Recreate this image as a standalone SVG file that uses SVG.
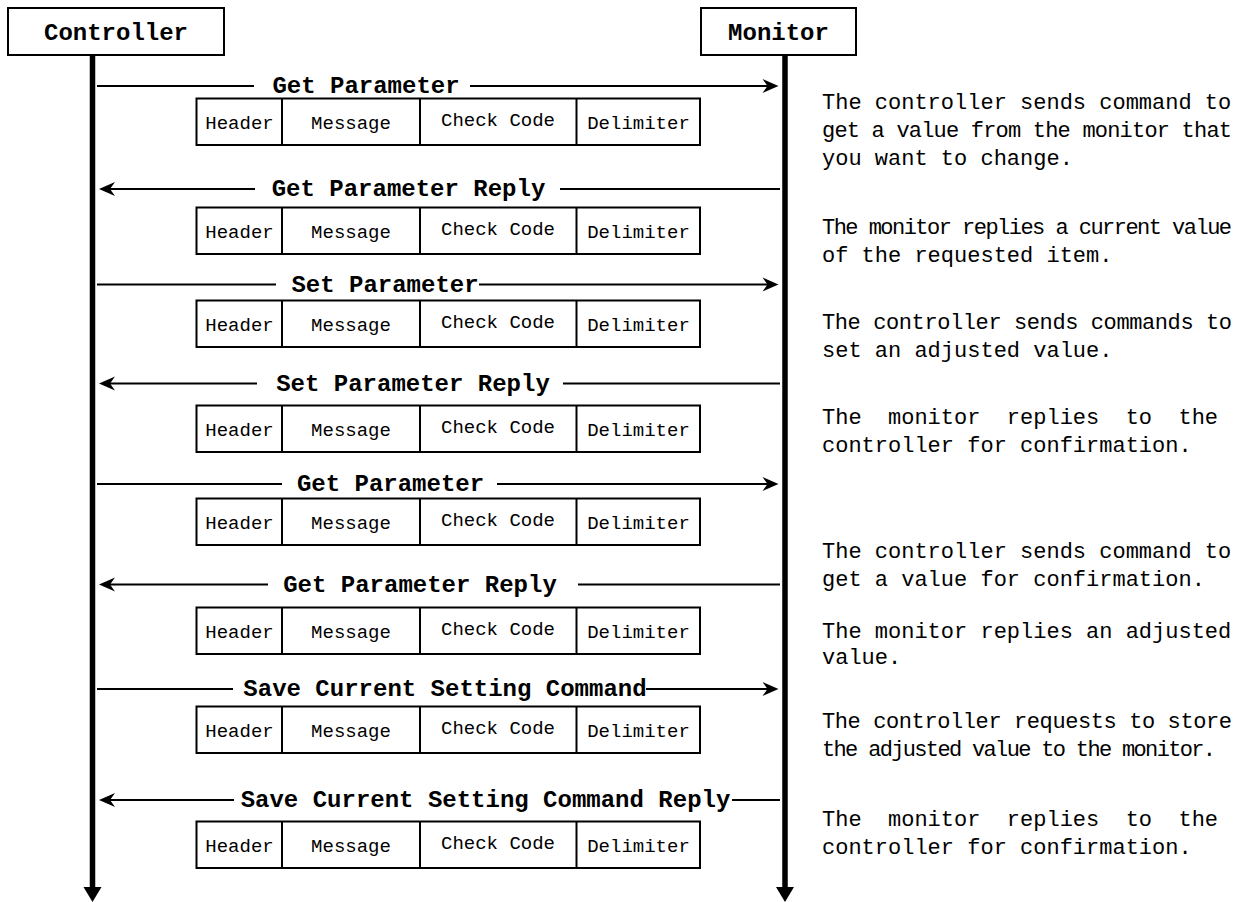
<svg xmlns="http://www.w3.org/2000/svg" width="1250" height="902" viewBox="0 0 1250 902">
<style>
.bg{fill:#fff}
.box{fill:#fff;stroke:#000;stroke-width:2}
.life{stroke:#000;stroke-width:5.5;fill:none}
.ln{stroke:#000;stroke-width:2;fill:none}
.ttl{font-family:"Liberation Mono","Courier New",monospace;font-weight:bold;font-size:24px;fill:#000;text-anchor:middle}
.lbl{font-family:"Liberation Mono","Courier New",monospace;font-weight:bold;font-size:24px;fill:#000;text-anchor:middle}
.fld{font-family:"Liberation Mono","Courier New",monospace;font-size:19px;fill:#000;text-anchor:middle}
.dsc{font-family:"Liberation Mono","Courier New",monospace;font-size:22px;fill:#000}
</style>
<defs>
<path id="headR" d="M0,0 L-16,-7 L-11,0 L-16,7 Z" fill="#000"/>
<path id="headL" d="M0,0 L16,-7 L11,0 L16,7 Z" fill="#000"/>
<g id="frame">
<rect class="box" x="196.5" y="0" width="503.5" height="46.5"/>
<line class="ln" x1="282" y1="0" x2="282" y2="46.5"/>
<line class="ln" x1="420" y1="0" x2="420" y2="46.5"/>
<line class="ln" x1="576.5" y1="0" x2="576.5" y2="46.5"/>
<text class="fld" x="239.5" y="30">Header</text>
<text class="fld" x="351" y="30">Message</text>
<text class="fld" x="498" y="27">Check Code</text>
<text class="fld" x="638.5" y="30">Delimiter</text>
</g>
</defs>
<rect class="bg" x="0" y="0" width="1250" height="902"/>

<g id="controller">
<rect class="box" x="8" y="8" width="216" height="47"/>
<text class="ttl" x="116" y="39.5">Controller</text>
<line class="life" x1="92.5" y1="55" x2="92.5" y2="890"/>
<polygon points="83.5,887 101.5,887 92.5,902" fill="#000"/>
</g>
<g id="monitor">
<rect class="box" x="701" y="8" width="155" height="47"/>
<text class="ttl" x="778.5" y="39.5">Monitor</text>
<line class="life" x1="785" y1="55" x2="785" y2="890"/>
<polygon points="776,887 794,887 785,902" fill="#000"/>
</g>

<g id="connectors">
<!-- 1 Get Parameter -->
<line class="ln" x1="97" y1="86" x2="254" y2="86"/>
<line class="ln" x1="470" y1="86" x2="770" y2="86"/>
<use href="#headR" x="778.5" y="86"/>
<!-- 2 Get Parameter Reply -->
<line class="ln" x1="107" y1="189" x2="255" y2="189"/>
<line class="ln" x1="560" y1="189" x2="780" y2="189"/>
<use href="#headL" x="99" y="189"/>
<!-- 3 Set Parameter -->
<line class="ln" x1="97" y1="284.5" x2="276" y2="284.5"/>
<line class="ln" x1="479" y1="284.5" x2="770" y2="284.5"/>
<use href="#headR" x="778.5" y="284.5"/>
<!-- 4 Set Parameter Reply -->
<line class="ln" x1="107" y1="383.5" x2="257" y2="383.5"/>
<line class="ln" x1="563" y1="383.5" x2="780" y2="383.5"/>
<use href="#headL" x="99" y="383.5"/>
<!-- 5 Get Parameter -->
<line class="ln" x1="97" y1="484" x2="282" y2="484"/>
<line class="ln" x1="497" y1="484" x2="770" y2="484"/>
<use href="#headR" x="778.5" y="484"/>
<!-- 6 Get Parameter Reply -->
<line class="ln" x1="107" y1="584.5" x2="268" y2="584.5"/>
<line class="ln" x1="578" y1="584.5" x2="780" y2="584.5"/>
<use href="#headL" x="99" y="584.5"/>
<!-- 7 Save Current Setting Command -->
<line class="ln" x1="97" y1="689" x2="233" y2="689"/>
<line class="ln" x1="646" y1="689" x2="770" y2="689"/>
<use href="#headR" x="778.5" y="689"/>
<!-- 8 Save Current Setting Command Reply -->
<line class="ln" x1="107" y1="800" x2="234" y2="800"/>
<line class="ln" x1="732" y1="800" x2="780" y2="800"/>
<use href="#headL" x="99" y="800"/>
</g>

<g id="labels">
<text class="lbl" x="366" y="93">Get Parameter</text>
<text class="lbl" x="408.5" y="196">Get Parameter Reply</text>
<text class="lbl" x="385" y="291.5">Set Parameter</text>
<text class="lbl" x="413" y="390.5">Set Parameter Reply</text>
<text class="lbl" x="390.5" y="491">Get Parameter</text>
<text class="lbl" x="420" y="591.5">Get Parameter Reply</text>
<text class="lbl" x="445" y="696">Save Current Setting Command</text>
<text class="lbl" x="485.5" y="807">Save Current Setting Command Reply</text>
</g>

<g id="frames">
<use href="#frame" x="0" y="98.5"/>
<use href="#frame" x="0" y="207.5"/>
<use href="#frame" x="0" y="300.5"/>
<use href="#frame" x="0" y="405.5"/>
<use href="#frame" x="0" y="498.5"/>
<use href="#frame" x="0" y="607.5"/>
<use href="#frame" x="0" y="706.5"/>
<use href="#frame" x="0" y="821.5"/>
</g>

<g id="descriptions">
<text class="dsc" x="822" y="109">The controller sends command to</text>
<text class="dsc" x="822" y="137" textLength="410" lengthAdjust="spacing">get a value from the monitor that</text>
<text class="dsc" x="822" y="165">you want to change.</text>

<text class="dsc" x="822" y="234" textLength="410" lengthAdjust="spacing">The monitor replies a current value</text>
<text class="dsc" x="822" y="262">of the requested item.</text>

<text class="dsc" x="822" y="329" textLength="410" lengthAdjust="spacing">The controller sends commands to</text>
<text class="dsc" x="822" y="357">set an adjusted value.</text>

<text class="dsc" x="822" y="424" word-spacing="13.2">The monitor replies to the</text>
<text class="dsc" x="822" y="452">controller for confirmation.</text>

<text class="dsc" x="822" y="558">The controller sends command to</text>
<text class="dsc" x="822" y="586">get a value for confirmation.</text>

<text class="dsc" x="822" y="638">The monitor replies an adjusted</text>
<text class="dsc" x="822" y="664">value.</text>

<text class="dsc" x="822" y="728" textLength="410" lengthAdjust="spacing">The controller requests to store</text>
<text class="dsc" x="822" y="756" textLength="394" lengthAdjust="spacing">the adjusted value to the monitor.</text>

<text class="dsc" x="822" y="826" word-spacing="13.2">The monitor replies to the</text>
<text class="dsc" x="822" y="854">controller for confirmation.</text>
</g>
</svg>
